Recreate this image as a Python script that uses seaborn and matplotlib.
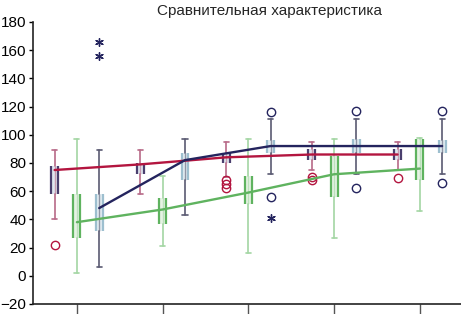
import numpy as np
import matplotlib
matplotlib.use('Agg')
import matplotlib.pyplot as plt
import seaborn as sns

sns.set_style('white')
plt.rcParams['font.family'] = ['Liberation Sans Narrow', 'Liberation Sans', 'DejaVu Sans']

# данные (5 групп, 3 серии)
groups = ['', '', '', '', '']

red_lo = [40, 58, 70, 75, 75]
red_q1 = [58, 72, 80, 82, 82]
red_med = [75, 79, 84, 86, 86]
red_q3 = [78, 80, 87, 90, 90]
red_hi = [89, 89, 95, 95, 95]
red_out = [[22], [], [62, 65, 68], [68, 70], [69]]

green_lo = [2, 21, 16, 27, 46]
green_q1 = [27, 37, 51, 56, 68]
green_med = [38, 47, 59, 72, 76]
green_q3 = [58, 55, 71, 85, 97]
green_hi = [97, 71, 97, 97, 98]
green_out = [[], [], [], [], []]

navy_lo = [6, 43, 72, 72, 72]
navy_q1 = [32, 68, 87, 87, 87]
navy_med = [48, 82, 92, 92, 92]
navy_q3 = [58, 87, 96, 97, 96]
navy_hi = [89, 97, 111, 111, 111]
navy_out = [[], [], [116, 56], [117, 62], [117, 66]]
navy_ext = [[156, 166], [], [41], [], []]

series = [
    # lo, q1, med, q3, hi, out, offset, line, edge, fill, whisker
    (red_lo, red_q1, red_med, red_q3, red_hi, red_out, -0.26, '#b3153f', '#4a3f6e', '#dfe6ef', '#b86a88'),
    (green_lo, green_q1, green_med, green_q3, green_hi, green_out, 0.0, '#5fb35f', '#5fb35f', '#e6f3e4', '#a3d6a3'),
    (navy_lo, navy_q1, navy_med, navy_q3, navy_hi, navy_out, 0.26, '#24245e', '#9dbfcf', '#e2edf2', '#5a5a72'),
]

fig, ax = plt.subplots(figsize=(4.61, 3.14), dpi=100)
fig.subplots_adjust(left=0.072, right=1.0, top=0.93, bottom=0.032)

x = np.arange(len(groups))
w = 0.08
for lo, q1, med, q3, hi, out, off, lc, ec, fc, wc in series:
    pos = x + off
    stats = [dict(whislo=lo[i], q1=q1[i], med=med[i], q3=q3[i], whishi=hi[i], fliers=out[i])
             for i in range(len(groups))]
    ax.bxp(stats, positions=pos, widths=w, patch_artist=True,
           boxprops=dict(facecolor=fc, edgecolor='none', linewidth=0),
           whiskerprops=dict(color=wc, linewidth=1.2),
           capprops=dict(color=wc, linewidth=1.2),
           medianprops=dict(linewidth=0),
           flierprops=dict(marker='o', markerfacecolor='none', markeredgecolor=lc,
                           markersize=6, markeredgewidth=1.0),
           capwidths=0.06, manage_ticks=False)
    # вертикальные края ящиков и ус сквозь ящик
    ax.vlines(pos - w / 2, q1, q3, color=ec, linewidth=1.6, zorder=3)
    ax.vlines(pos + w / 2, q1, q3, color=ec, linewidth=1.6, zorder=3)
    ax.vlines(pos, q1, q3, color=wc, linewidth=1.0, alpha=0.6, zorder=3)
    sns.lineplot(x=pos, y=med, color=lc, linewidth=1.7, ax=ax, zorder=4)

for i, vals in enumerate(navy_ext):
    if vals:
        sns.scatterplot(x=[i + 0.26] * len(vals), y=vals, marker=(6, 2, 0), s=30,
                        color='#24245e', linewidth=1.0, ax=ax)

ax.set_xlim(-0.51, 4.48)
ax.set_ylim(-20, 180)
ax.set_yticks(range(-20, 181, 20))
ax.set_xticks(x)
ax.set_xticklabels(groups)
ax.tick_params(axis='y', length=3, width=1, labelsize=11, pad=2, colors='black', left=True)
ax.tick_params(axis='x', length=7, width=1, bottom=True, colors='#555555')
for s in ['top', 'right']:
    ax.spines[s].set_visible(False)
for s in ['left', 'bottom']:
    ax.spines[s].set_color('#222222')
    ax.spines[s].set_linewidth(1.2)

fig.text(0.585, 0.965, 'Сравнительная характеристика', ha='center', va='center', fontsize=11)

fig.savefig('out.png', dpi=100)
